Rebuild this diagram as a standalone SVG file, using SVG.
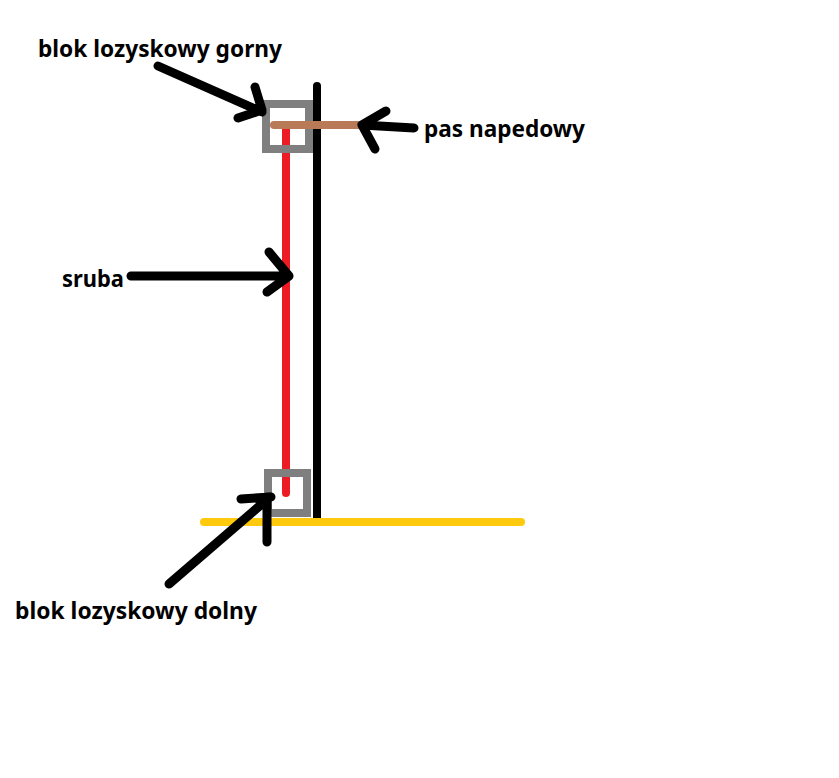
<svg xmlns="http://www.w3.org/2000/svg" width="839" height="778" viewBox="0 0 839 778">
<style>
.t{font-family:"Noto Sans","Open Sans",sans-serif;font-weight:700;font-size:23px;fill:#000}
.box{fill:none;stroke:#7f7f7f;stroke-width:8}
.ln{fill:none;stroke-linecap:round;stroke-linejoin:round}
.a{fill:none;stroke:#000;stroke-width:9;stroke-linecap:round;stroke-linejoin:round}
</style>
<rect width="839" height="778" fill="#fff"/>
<g id="rama"><path d="M317 86V526" fill="none" stroke="#000" stroke-width="8"/><circle cx="317" cy="86" r="4" fill="#000"/></g>
<g id="sruba-pret"><path d="M286 128V493" class="ln" stroke="#ed1c24" stroke-width="8"/></g>
<g id="blok-gorny"><rect class="box" x="266" y="104" width="43" height="45"/></g>
<g id="blok-dolny"><rect class="box" x="268" y="473" width="39" height="40"/></g>
<g id="podstawa"><path d="M204 522H521" class="ln" stroke="#ffc90e" stroke-width="8"/></g>
<g id="pas"><path d="M274 125H361" class="ln" stroke="#b97a57" stroke-width="8"/></g>
<g id="connectors">
<path class="a" d="M158 66L262 112M255 87L262 110L238 118"/>
<path class="a" d="M414 128L362 125M386 111L362 125L375 149"/>
<path class="a" d="M131 276L288 276M269 252L289 276L267 292"/>
<path class="a" d="M169 584L270 497M241 499L271 497M267 497V542"/>
</g>
<g id="l1"><text class="t" x="38" y="57" textLength="244" lengthAdjust="spacingAndGlyphs">blok lozyskowy gorny</text></g>
<g id="l2"><text class="t" x="424" y="137" textLength="161" lengthAdjust="spacingAndGlyphs">pas napedowy</text></g>
<g id="l3"><text class="t" x="62" y="287" textLength="62" lengthAdjust="spacingAndGlyphs">sruba</text></g>
<g id="l4"><text class="t" x="15" y="619" textLength="242" lengthAdjust="spacingAndGlyphs">blok lozyskowy dolny</text></g>
</svg>
